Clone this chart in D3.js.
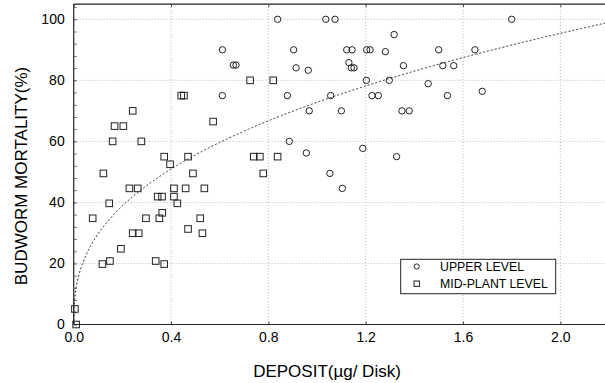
<!DOCTYPE html>
<html><head><meta charset="utf-8">
<script src="https://cdn.jsdelivr.net/npm/d3@7"></script>
<style>html,body{margin:0;padding:0;background:#fff;overflow:hidden}svg{display:block}</style>
</head><body>
<svg id="chart" width="605" height="383"></svg>
<script>
// ---- data ----
const upperX = [0.611,0.656,0.667,0.611,0.838,1.036,1.074,1.317,0.904,1.122,1.144,1.204,1.218,1.281,1.500,0.914,0.964,1.131,1.141,1.152,1.355,1.517,1.562,1.203,1.297,1.457,0.878,1.056,1.226,1.252,1.536,0.968,1.100,1.349,1.379,0.886,0.956,1.188,1.327,1.053,1.104,1.800,1.649,1.679];
const upperY = [90,85,85,75,100,100,100,95,90,90,90,90,90,89.4,90,84.1,83.3,85.8,84.1,84.1,84.8,84.8,84.8,80,80,78.9,75,75,75,75,75,70,70,70,70,60,56.2,57.7,55,49.5,44.6,100,90,76.4];
const midX = [0.725,0.82,0.442,0.453,0.2425,0.168,0.204,0.160,0.278,0.573,0.372,0.470,0.396,0.74,0.765,0.838,0.779,0.122,0.490,0.229,0.263,0.412,0.460,0.537,0.345,0.363,0.412,0.146,0.426,0.078,0.297,0.352,0.520,0.364,0.470,0.529,0.2425,0.267,0.194,0.118,0.149,0.337,0.372,0.005,0.01];
const midY = [80,80,75,75,70,65,65,60,60,66.5,55,55,52.5,55,55,55,49.5,49.5,49.5,44.6,44.6,44.6,44.6,44.6,41.9,41.9,41.9,39.7,39.7,34.8,34.8,34.8,34.8,36.6,31.3,29.9,29.9,29.9,24.8,19.8,20.8,20.8,19.8,5.1,0];
const xTicks = [0.0,0.4,0.8,1.2,1.6,2.0];
const yTicks = [0,20,40,60,80,100];
const seriesNames = ["UPPER LEVEL","MID-PLANT LEVEL"];
// fitted power curve y = a * x^b
const fitA = 72.8, fitB = 0.39;

const svg = d3.select("#chart");
const x = d3.scaleLinear().domain([0,2.2]).range([73.7, 609]);
const y = d3.scaleLinear().domain([0,105]).range([324.5, 324.5-105*3.052]);
const X0 = x(0), X1 = 605, Y0 = y(0), YT = y(105);
const font = "'Liberation Sans', Arial, sans-serif";

// gridlines
const grid = svg.append("g").attr("stroke","#b8b8b8").attr("stroke-width",1).attr("stroke-dasharray","1,2");
xTicks.filter(d=>d>0).forEach(d=>grid.append("line").attr("x1",x(d)).attr("x2",x(d)).attr("y1",YT).attr("y2",Y0));
yTicks.filter(d=>d>0).forEach(d=>grid.append("line").attr("x1",X0).attr("x2",X1).attr("y1",y(d)).attr("y2",y(d)));

// axes
const axG = svg.append("g").attr("stroke","#222").attr("stroke-width",1.2);
axG.append("line").attr("x1",X0).attr("x2",X0).attr("y1",YT).attr("y2",Y0);
axG.append("line").attr("x1",X0).attr("x2",X1).attr("y1",Y0).attr("y2",Y0);
axG.append("line").attr("x1",X0).attr("x2",X1).attr("y1",YT).attr("y2",YT);

const bottomAxis = svg.append("g").attr("transform",`translate(0,${Y0})`)
  .call(d3.axisBottom(x).tickValues(xTicks).tickFormat(d3.format(".1f")).tickSizeInner(-3).tickSizeOuter(0).tickPadding(8));
bottomAxis.select(".domain").remove();
bottomAxis.selectAll("text").attr("font-family",font).attr("font-size",14).attr("fill","#000");
bottomAxis.selectAll("line").attr("stroke","#444");

const topAxis = svg.append("g").attr("transform",`translate(0,${YT})`)
  .call(d3.axisTop(x).tickValues(xTicks).tickFormat("").tickSizeInner(-3).tickSizeOuter(0));
topAxis.select(".domain").remove();
topAxis.selectAll("line").attr("stroke","#444");

const leftAxis = svg.append("g").attr("transform",`translate(${X0},0)`)
  .call(d3.axisLeft(y).tickValues(yTicks).tickSizeInner(-3).tickSizeOuter(0).tickPadding(9));
leftAxis.select(".domain").remove();
leftAxis.selectAll("text").attr("font-family",font).attr("font-size",14).attr("fill","#000");
leftAxis.selectAll("line").attr("stroke","#444");
const minorY = d3.range(0,105,4).filter(v=>v%20!==0);
svg.append("g").attr("transform",`translate(${X0},0)`)
  .call(d3.axisLeft(y).tickValues(minorY).tickFormat("").tickSizeInner(-3).tickSizeOuter(0))
  .call(g=>g.select(".domain").remove()).selectAll("line").attr("stroke","#666");

// fitted curve
const curvePts = d3.range(0, 1001).map(i => i/1000*2.2).map(v => [v, fitA*Math.pow(v, fitB)]);
svg.append("path").datum(curvePts)
  .attr("d", d3.line().x(d=>x(d[0])).y(d=>y(d[1])))
  .attr("fill","none").attr("stroke","#222").attr("stroke-width",1).attr("stroke-dasharray","2,2");

// markers
const mk = svg.append("g").attr("fill","none").attr("stroke","#222").attr("stroke-width",1);
upperX.forEach((v,i)=>mk.append("circle").attr("cx",x(v)).attr("cy",y(upperY[i])).attr("r",3.2));
midX.forEach((v,i)=>mk.append("rect").attr("x",x(v)-3.3).attr("y",y(midY[i])-3.3).attr("width",6.6).attr("height",6.6));

// legend
const lg = svg.append("g");
lg.append("rect").attr("x",400.7).attr("y",259.3).attr("width",155).attr("height",34.4)
  .attr("fill","#fff").attr("stroke","#222").attr("stroke-width",1);
lg.append("circle").attr("cx",416.7).attr("cy",266.5).attr("r",2.6).attr("fill","none").attr("stroke","#222");
lg.append("rect").attr("x",414).attr("y",281).attr("width",5.4).attr("height",5.4).attr("fill","none").attr("stroke","#222");
lg.append("text").attr("x",440).attr("y",270.8).text(seriesNames[0]).attr("font-family",font).attr("font-size",12.3).attr("fill","#000");
lg.append("text").attr("x",440).attr("y",288).text(seriesNames[1]).attr("font-family",font).attr("font-size",12.3).attr("fill","#000");

// titles
svg.append("text").attr("x",327).attr("y",377).attr("text-anchor","middle")
  .attr("font-family",font).attr("font-size",17).attr("fill","#000").text("DEPOSIT(µg/ Disk)");
svg.append("text").attr("transform","translate(27,176) rotate(-90)").attr("text-anchor","middle")
  .attr("font-family",font).attr("font-size",17).attr("fill","#000").text("BUDWORM MORTALITY(%)");
</script>
</body></html>
